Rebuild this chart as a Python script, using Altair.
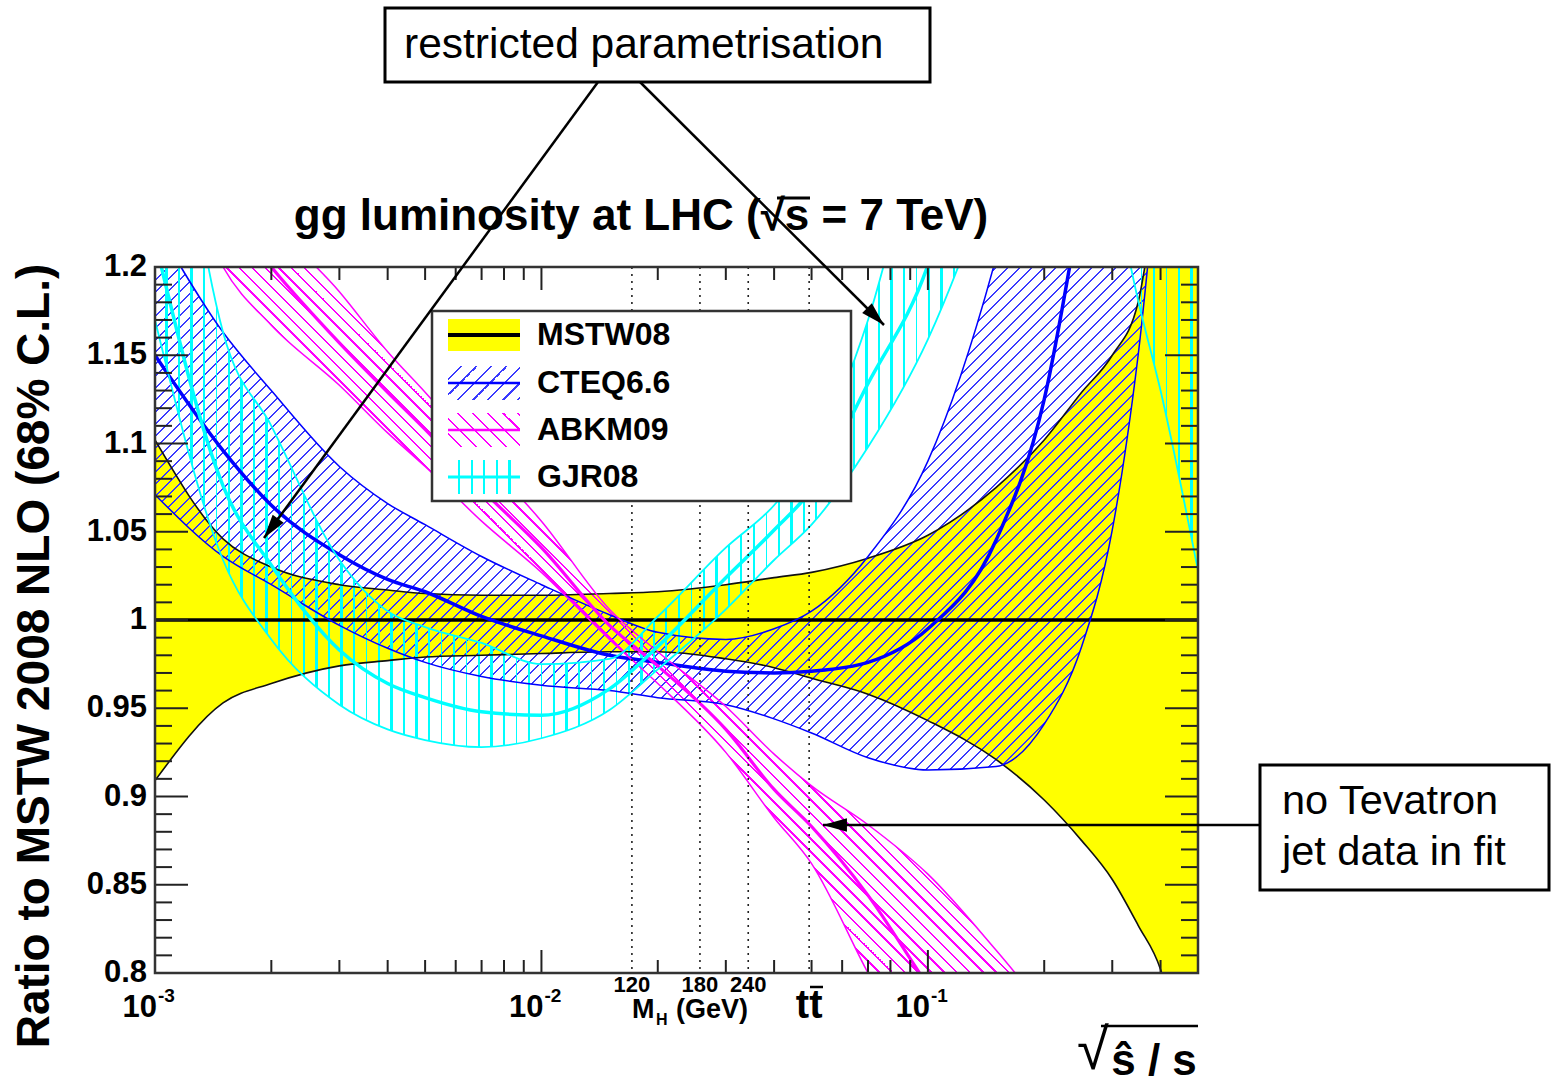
import math
import altair as alt
import pandas as pd

# ---------------- data ----------------
x_vals = [0.001, 0.0015, 0.002, 0.003, 0.004, 0.005, 0.007, 0.01, 0.015, 0.02, 0.03,
          0.04, 0.05, 0.07, 0.1, 0.15, 0.2, 0.25, 0.3, 0.35, 0.4, 0.5]

mstw_hi = [1.102, 1.046, 1.030, 1.020, 1.017, 1.015, 1.014, 1.014, 1.015, 1.016, 1.020,
           1.024, 1.027, 1.035, 1.048, 1.075, 1.102, 1.129, 1.150, 1.180, 1.26, 1.40]
mstw_lo = [0.909, 0.953, 0.964, 0.974, 0.977, 0.979, 0.980, 0.981, 0.982, 0.982, 0.978,
           0.973, 0.967, 0.958, 0.943, 0.921, 0.898, 0.875, 0.853, 0.827, 0.802, 0.70]
mstw_central = [1.0]

cteq_hi = [1.225, 1.163, 1.130, 1.087, 1.066, 1.054, 1.036, 1.020, 1.003, 0.993, 0.989,
           0.995, 1.005, 1.036, 1.090, 1.205, 1.32, 1.40, 1.45, 1.45, 1.45, 1.45]
cteq_c = [1.150, 1.096, 1.065, 1.037, 1.023, 1.016, 1.002, 0.991, 0.980, 0.976, 0.971,
          0.970, 0.971, 0.976, 0.995, 1.045, 1.125, 1.24, 1.35, 1.45, 1.45, 1.45]
cteq_lo = [1.071, 1.036, 1.020, 0.997, 0.984, 0.976, 0.968, 0.963, 0.960, 0.956, 0.952,
           0.944, 0.936, 0.922, 0.915, 0.917, 0.941, 0.985, 1.051, 1.15, 1.27, 1.40]

abkm_x = [0.001, 0.0015, 0.002, 0.003, 0.004, 0.005, 0.007, 0.01, 0.015, 0.02, 0.03,
          0.04, 0.05, 0.07, 0.1, 0.15, 0.2]
abkm_hi = [1.37, 1.27, 1.228, 1.186, 1.152, 1.129, 1.093, 1.056, 1.006, 0.982, 0.951,
           0.924, 0.906, 0.884, 0.856, 0.813, 0.78]
abkm_c = [1.33, 1.235, 1.200, 1.157, 1.129, 1.108, 1.074, 1.041, 0.997, 0.974, 0.938,
          0.904, 0.883, 0.844, 0.793, 0.74, 0.70]
abkm_lo = [1.30, 1.20, 1.167, 1.133, 1.106, 1.087, 1.056, 1.027, 0.989, 0.964, 0.925,
           0.888, 0.862, 0.80, 0.74, 0.66, 0.60]

gjr_hi = [1.40, 1.163, 1.110, 1.034, 1.005, 0.996, 0.987, 0.975, 0.978, 1.002, 1.041,
          1.065, 1.093, 1.170, 1.30, 1.45, 1.45, 1.45, 1.45, 1.45, 1.45, 1.45]
gjr_c = [1.215, 1.076, 1.031, 0.983, 0.964, 0.956, 0.948, 0.946, 0.961, 0.985, 1.024,
         1.051, 1.074, 1.134, 1.201, 1.35, 1.45, 1.45, 1.45, 1.45, 1.45, 1.45]
gjr_lo = [1.17, 1.034, 0.989, 0.952, 0.938, 0.932, 0.928, 0.933, 0.949, 0.972, 1.006,
          1.034, 1.054, 1.098, 1.159, 1.26, 1.35, 1.32, 1.25, 1.181, 1.130, 1.028]

y_major = [0.8, 0.85, 0.9, 0.95, 1.0, 1.05, 1.1, 1.15, 1.2]
y_labels = ["0.8", "0.85", "0.9", "0.95", "1", "1.05", "1.1", "1.15", "1.2"]
y_minor = [round(0.8 + 0.01 * i, 2) for i in range(1, 40) if i % 5 != 0]
x_major = [0.001, 0.01, 0.1]
x_minor = [2e-3, 3e-3, 4e-3, 5e-3, 6e-3, 7e-3, 8e-3, 9e-3,
           2e-2, 3e-2, 4e-2, 5e-2, 6e-2, 7e-2, 8e-2, 9e-2, 0.2, 0.3, 0.4, 0.5]
decade_exp = ["-3", "-2", "-1"]
mh_masses = [120, 180, 240]
ttbar_mass = 345
sqrt_s = 7000
legend_names = ["MSTW08", "CTEQ6.6", "ABKM09", "GJR08"]

# ---------------- geometry ----------------
W, H = 1043, 706
X0, X1 = 1e-3, 0.5
Y0, Y1 = 0.8, 1.2
OX, OY = 155, 267  # plot origin on the page
FONT = "Liberation Sans"


def px(x):
    return (math.log10(x) - math.log10(X0)) / (math.log10(X1) - math.log10(X0)) * W


def py(v):
    return (Y1 - v) / (Y1 - Y0) * H


def hex_rgb(c):
    c = c.lstrip("#")
    return tuple(int(c[i:i + 2], 16) for i in (0, 2, 4))


def hatch(color, spacing, lw, w, h, kind):
    r_, g_, b_ = hex_rgb(color)
    clear = f"rgba({r_},{g_},{b_},0)"
    if kind == "|":
        g = dict(x1=0, y1=0, x2=1, y2=0)
        L = w
        p = spacing
    else:
        r = h / w
        s = (1 + r) / (1 + r * r)
        L = (w + h) / math.sqrt(2)
        p = spacing / math.sqrt(2)
        if kind == "/":
            g = dict(x1=0, y1=0, x2=s, y2=s * r)
        else:
            g = dict(x1=0, y1=1, x2=s, y2=1 - s * r)
    dt = p / L
    on = min(lw / p, 1.0)
    stops = []
    k = 0
    while k * dt < 1:
        a = k * dt
        b = a + (1 - on) * dt
        c = (k + 1) * dt
        for o, col in ((a, clear), (b, clear), (b, color), (c, color)):
            stops.append({"offset": round(min(o, 1.0), 6), "color": col})
        k += 1
    return {"gradient": "linear", **g, "stops": stops}


def bbox(xs, los, his):
    w = px(max(xs)) - px(min(xs))
    h = py(min(los + his)) - py(max(los + his))
    return w, h


XS = alt.Scale(type="log", domain=[X0, X1], nice=False)
YS = alt.Scale(domain=[Y0, Y1], nice=False, zero=False)


def X(f):
    return alt.X(f"{f}:Q", scale=XS, axis=None)


def Y(f):
    return alt.Y(f"{f}:Q", scale=YS, axis=None)


one = pd.DataFrame({"k": [0]})


def txt(s, x, y, size, weight="normal", align="left", angle=0, color="black"):
    return alt.Chart(one).mark_text(
        text=s, fontSize=size, fontWeight=weight, align=align, baseline="middle",
        angle=angle, font=FONT, color=color
    ).encode(x=alt.value(x), y=alt.value(y))


def box(x1, y1, x2, y2, fill, stroke, sw):
    return alt.Chart(one).mark_rect(fill=fill, stroke=stroke, strokeWidth=sw, opacity=1).encode(
        x=alt.value(x1), x2=alt.value(x2), y=alt.value(y1), y2=alt.value(y2))


def seg(x1, y1, x2, y2, color="black", sw=2.0):
    return alt.Chart(one).mark_rule(color=color, strokeWidth=sw).encode(
        x=alt.value(x1), y=alt.value(y1), x2=alt.value(x2), y2=alt.value(y2))


ARROW = "M0,0L-0.6,2.1L0.6,2.1Z"


def arrow(x1, y1, x2, y2):
    dx, dy = x2 - x1, y2 - y1
    ang = math.degrees(math.atan2(dx, -dy)) % 360
    head = alt.Chart(one).mark_point(shape=ARROW, angle=ang, size=520, filled=True,
                                     color="black", opacity=1, strokeWidth=0).encode(
        x=alt.value(x2), y=alt.value(y2))
    return [seg(x1, y1, x2, y2, sw=2.5), head]


# ---------------- data frames ----------------
mstw = pd.DataFrame({"x": x_vals, "lo": mstw_lo, "hi": mstw_hi})
cteq = pd.DataFrame({"x": x_vals, "lo": cteq_lo, "c": cteq_c, "hi": cteq_hi})
abkm = pd.DataFrame({"x": abkm_x, "lo": abkm_lo, "c": abkm_c, "hi": abkm_hi})
gjr = pd.DataFrame({"x": x_vals, "lo": gjr_lo, "c": gjr_c, "hi": gjr_hi})

BLUE_H = "#3a3aff"
MAG = "#ff00ff"
CYAN = "#00ffff"

cw, ch = bbox(x_vals, cteq_lo, cteq_hi)
aw, ah = bbox(abkm_x, abkm_lo, abkm_hi)
gw, gh = bbox(x_vals, gjr_lo, gjr_hi)

layers = []


def band(df, fill):
    return alt.Chart(df).mark_area(fill=fill, opacity=1, clip=True, interpolate="monotone").encode(
        x=X("x"), y=Y("lo"), y2=alt.Y2("hi"))


def line(df, field, color, width):
    return alt.Chart(df).mark_line(color=color, strokeWidth=width, clip=True,
                                   interpolate="monotone").encode(x=X("x"), y=Y(field))


layers.append(band(mstw, "#ffff00"))
layers.append(band(cteq, hatch(BLUE_H, 12, 1.4, cw, ch, "/")))
layers.append(band(abkm, hatch(MAG, 13, 1.6, aw, ah, "\\")))
layers.append(band(gjr, hatch(CYAN, 12.5, 2.0, gw, gh, "|")))

# band borders and central lines
layers += [line(mstw, "lo", "#111111", 1.6), line(mstw, "hi", "#111111", 1.6)]
layers.append(alt.Chart(pd.DataFrame({"v": mstw_central})).mark_rule(color="black", strokeWidth=3.5).encode(
    y=Y("v"), x=alt.value(0), x2=alt.value(W)))
layers += [line(cteq, "lo", "#0000ff", 1.5), line(cteq, "hi", "#0000ff", 1.5),
           line(cteq, "c", "#0000ff", 3.5)]
layers += [line(abkm, "lo", MAG, 1.5), line(abkm, "hi", MAG, 1.5), line(abkm, "c", MAG, 3.2)]
layers += [line(gjr, "lo", CYAN, 1.8), line(gjr, "hi", CYAN, 1.8), line(gjr, "c", CYAN, 3.5)]

# dotted mass lines
mass_x = [m / sqrt_s for m in mh_masses] + [ttbar_mass / sqrt_s]
layers.append(alt.Chart(pd.DataFrame({"m": mass_x})).mark_rule(
    color="#222222", strokeWidth=1.6, strokeDash=[2, 5]).encode(
    x=X("m"), y=alt.value(0), y2=alt.value(H)))

# ticks (ROOT style, inside)
ymaj = pd.DataFrame({"v": y_major, "lab": y_labels})
ymin = pd.DataFrame({"v": y_minor})
xmaj = pd.DataFrame({"v": x_major})
xmin = pd.DataFrame({"v": x_minor})
TC = "#222222"
for df, ln in ((ymaj, 33), (ymin, 17)):
    layers.append(alt.Chart(df).mark_rule(color=TC, strokeWidth=2).encode(
        y=Y("v"), x=alt.value(0), x2=alt.value(ln)))
    layers.append(alt.Chart(df).mark_rule(color=TC, strokeWidth=2).encode(
        y=Y("v"), x=alt.value(W - ln), x2=alt.value(W)))
for df, ln in ((xmaj, 23), (xmin, 13)):
    layers.append(alt.Chart(df).mark_rule(color=TC, strokeWidth=2).encode(
        x=X("v"), y=alt.value(H), y2=alt.value(H - ln)))
    layers.append(alt.Chart(df).mark_rule(color=TC, strokeWidth=2).encode(
        x=X("v"), y=alt.value(0), y2=alt.value(ln)))

# y tick labels
layers.append(alt.Chart(ymaj).mark_text(
    fontSize=31, fontWeight="bold", font=FONT, align="right", baseline="middle", color="black"
).encode(y=Y("v"), x=alt.value(-8), text="lab:N"))

# frame
layers.append(box(0, 0, W, H, "transparent", "#333333", 2.5))

# ---------------- legend ----------------
lx1, ly1, lx2, ly2 = 432 - OX, 311 - OY, 851 - OX, 501 - OY
layers.append(box(lx1, ly1, lx2, ly2, "white", "#333333", 2.5))
sx1, sx2 = 448 - OX, 520 - OX
rows = [335 - OY, 383 - OY, 430 - OY, 477 - OY]
layers.append(box(sx1, rows[0] - 16, sx2, rows[0] + 16, "#ffff00", None, 0))
layers.append(seg(sx1, rows[0], sx2, rows[0], "black", 4))
sw_w, sw_h = sx2 - sx1, 34
layers.append(box(sx1, rows[1] - 17, sx2, rows[1] + 17, hatch(BLUE_H, 15, 1.6, sw_w, sw_h, "/"), None, 0))
layers.append(seg(sx1, rows[1], sx2, rows[1], "#0000ff", 2.5))
layers.append(box(sx1, rows[2] - 17, sx2, rows[2] + 17, hatch(MAG, 15, 1.6, sw_w, sw_h, "\\"), None, 0))
layers.append(seg(sx1, rows[2], sx2, rows[2], MAG, 2.5))
layers.append(box(sx1, rows[3] - 17, sx2, rows[3] + 17, hatch(CYAN, 12.5, 2.2, sw_w, sw_h, "|"), None, 0))
layers.append(seg(sx1, rows[3], sx2, rows[3], CYAN, 3))
for name, ry in zip(legend_names, rows):
    layers.append(txt(name, 537 - OX, ry, 32, "bold"))

# ---------------- texts ----------------
layers.append(txt("gg luminosity at LHC (\u221as = 7 TeV)", 641 - OX, 217 - OY, 44, "bold", "center"))
layers.append(seg(777 - OX, 198 - OY, 810 - OX, 198 - OY, "black", 3))
layers.append(txt("Ratio to MSTW 2008 NLO (68% C.L.)", 35 - OX, 656 - OY, 46, "bold", "center", angle=270))

for xv, ex in zip(x_major, decade_exp):
    p = px(xv)
    layers.append(txt("10", p + 2, 1008 - OY, 31, "bold", "right"))
    layers.append(txt(ex, p + 3, 996 - OY, 19, "bold", "left"))

for m in mh_masses:
    layers.append(txt(str(m), px(m / sqrt_s), 985 - OY, 22, "bold", "center"))
layers.append(txt("M", 632 - OX, 1010 - OY, 27, "bold", "left"))
layers.append(txt("H", 656 - OX, 1020 - OY, 16, "bold", "left"))
layers.append(txt("(GeV)", 676 - OX, 1010 - OY, 27, "bold", "left"))
layers.append(txt("tt", px(ttbar_mass / sqrt_s), 1006 - OY, 40, "bold", "center"))
layers.append(seg(810 - OX, 987 - OY, 823 - OX, 987 - OY, "black", 2.5))

# x-axis title sqrt(s_hat / s)
layers.append(txt("\u221a", 1093 - OX, 1052 - OY, 58, "normal", "center"))
layers.append(seg(1101 - OX, 1026 - OY, 1198 - OX, 1026 - OY, "black", 2.5))
layers.append(txt("\u015d / s", 1154 - OX, 1062 - OY, 44, "bold", "center"))

# ---------------- annotations ----------------
layers.append(box(385 - OX, 8 - OY, 930 - OX, 82 - OY, "white", "black", 3))
layers.append(txt("restricted parametrisation", 404 - OX, 45 - OY, 42.5))
layers.append(box(1260 - OX, 765 - OY, 1549 - OX, 890 - OY, "white", "black", 3))
layers.append(txt("no Tevatron", 1282 - OX, 802 - OY, 41.5))
layers.append(txt("jet data in fit", 1282 - OX, 853 - OY, 41.5))
layers += arrow(598 - OX, 82 - OY, 264 - OX, 538 - OY)
layers += arrow(640 - OX, 82 - OY, 884 - OX, 325 - OY)
layers += arrow(1260 - OX, 825 - OY, 823 - OX, 825 - OY)

chart = alt.layer(*layers).properties(
    width=W, height=H,
    padding={"left": OX, "top": OY, "right": 1560 - OX - W, "bottom": 1086 - OY - H},
    autosize=alt.AutoSizeParams(type="none"),
    background="white",
).configure_view(stroke=None)

chart.save("out.html", embed_options={"renderer": "svg", "actions": False})
